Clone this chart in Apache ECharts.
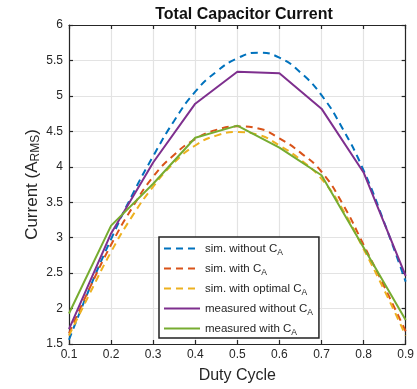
<!DOCTYPE html>
<html><head><meta charset="utf-8">
<script src="https://cdn.jsdelivr.net/npm/echarts@6/dist/echarts.min.js"></script>
<style>html,body{margin:0;padding:0;background:#fff}#c{width:417px;height:389px}</style>
</head><body><div id="c"></div>
<script>
// duty cycle samples for simulated (smooth) curves
const simD = [0.1,0.15,0.2,0.25,0.3,0.35,0.4,0.45,0.5,0.55,0.6,0.65,0.7,0.75,0.8,0.85,0.9];
const simWithout = [1.56,2.30,2.98,3.60,4.15,4.65,5.06,5.34,5.53,5.61,5.54,5.33,5.01,4.54,3.95,3.20,2.38];
const simWith    = [1.65,2.30,2.90,3.42,3.86,4.17,4.39,4.52,4.57,4.54,4.40,4.20,3.93,3.48,2.90,2.30,1.68];
const simOptimal = [1.62,2.22,2.80,3.30,3.72,4.06,4.30,4.44,4.49,4.45,4.30,4.10,3.83,3.40,2.84,2.25,1.62];
// measured points
const measD = [0.1,0.2,0.3,0.4,0.5,0.6,0.7,0.8,0.9];
const measWithout = [1.71,3.06,4.06,4.89,5.34,5.32,4.82,3.92,2.46];
const measWith    = [1.93,3.17,3.76,4.41,4.58,4.27,3.88,2.86,1.84];
const xTicks = [0.1,0.2,0.3,0.4,0.5,0.6,0.7,0.8,0.9];
const yTicks = [1.5,2,2.5,3,3.5,4,4.5,5,5.5,6];
const names = ['sim. without C{sub|A}','sim. with C{sub|A}','sim. with optimal C{sub|A}','measured without C{sub|A}','measured with C{sub|A}'];

const pairs = (xs, ys) => xs.map((x,i)=>[x, ys[i]]);
const FONT = 'Liberation Sans, Arial, Helvetica, sans-serif';
const dash = [7,5];
const rich = {sub:{fontSize:8.5, fontFamily:FONT, color:'#262626', padding:[8,0,0,0], lineHeight:12}};

const chart = echarts.init(document.getElementById('c'));
const axisLineStyle = {color:'#262626', width:1.2};
chart.setOption({
  animation:false,
  backgroundColor:'#fff',
  title:{text:'Total Capacitor Current', left:239, top:2, textAlign:'center',
    textStyle:{fontFamily:FONT, fontWeight:'bold', fontSize:16, color:'#111'}},
  grid:{left:69, right:9, top:25, bottom:43},
  xAxis:[{type:'value', min:0.1, max:0.9, interval:0.1, position:'bottom',
    name:'Duty Cycle', nameLocation:'middle', nameGap:24, nameMoveOverlap:false,
    nameTextStyle:{fontFamily:FONT, fontSize:16, color:'#262626'},
    axisLine:{show:true, onZero:false, lineStyle:axisLineStyle},
    axisTick:{show:true, inside:true, length:4, lineStyle:axisLineStyle},
    axisLabel:{fontFamily:FONT, fontSize:12, color:'#262626', margin:5, formatter:v=>xTicks.includes(+v.toFixed(1))?v.toFixed(1):''},
    splitLine:{show:true, lineStyle:{color:'#e3e3e3', width:1.2}}},
   {type:'value', min:0.1, max:0.9, interval:0.1, position:'top',
    axisLine:{show:true, onZero:false, lineStyle:axisLineStyle},
    axisTick:{show:true, inside:true, length:4, lineStyle:axisLineStyle},
    axisLabel:{show:false}, splitLine:{show:false}}],
  yAxis:[{type:'value', min:1.5, max:6, interval:0.5, position:'left',
    name:'Current (A{sub|RMS})', nameLocation:'middle', nameGap:27, nameMoveOverlap:false,
    nameTextStyle:{fontFamily:FONT, fontSize:17, color:'#262626', rich:{sub:{fontSize:12, fontFamily:FONT, color:'#262626', padding:[8,0,0,0]}}},
    axisLine:{show:true, onZero:false, lineStyle:axisLineStyle},
    axisTick:{show:true, inside:true, length:4, lineStyle:axisLineStyle},
    axisLabel:{fontFamily:FONT, fontSize:12, color:'#262626', margin:6, formatter:v=>yTicks.includes(v)?String(v):''},
    splitLine:{show:true, lineStyle:{color:'#e3e3e3', width:1.2}}},
   {type:'value', min:1.5, max:6, interval:0.5, position:'right',
    axisLine:{show:true, onZero:false, lineStyle:axisLineStyle},
    axisTick:{show:true, inside:true, length:4, lineStyle:axisLineStyle},
    axisLabel:{show:false}, splitLine:{show:false}}],
  legend:{orient:'vertical', left:159, top:237, itemWidth:36, itemHeight:10, itemGap:3,
    padding:[3,6,1,4], backgroundColor:'#fff', borderColor:'#222', borderWidth:1.5, borderRadius:0,
    itemStyle:{opacity:0},
    textStyle:{fontFamily:FONT, fontSize:11.5, color:'#262626', lineHeight:14, rich:rich},
    data: names},
  series:[
    {name:names[0], type:'line', smooth:true, symbol:'none', data:pairs(simD, simWithout), lineStyle:{color:'#0072BD', width:2, type:dash}, itemStyle:{color:'#0072BD'}},
    {name:names[1], type:'line', smooth:true, symbol:'none', data:pairs(simD, simWith), lineStyle:{color:'#D95319', width:2, type:dash}, itemStyle:{color:'#D95319'}},
    {name:names[2], type:'line', smooth:true, symbol:'none', data:pairs(simD, simOptimal), lineStyle:{color:'#EDB120', width:2, type:dash}, itemStyle:{color:'#EDB120'}},
    {name:names[3], type:'line', symbol:'none', data:pairs(measD, measWithout), lineStyle:{color:'#7E2F8E', width:2}, itemStyle:{color:'#7E2F8E'}},
    {name:names[4], type:'line', symbol:'none', data:pairs(measD, measWith), lineStyle:{color:'#77AC30', width:2}, itemStyle:{color:'#77AC30'}}
  ]
});
</script></body></html>
